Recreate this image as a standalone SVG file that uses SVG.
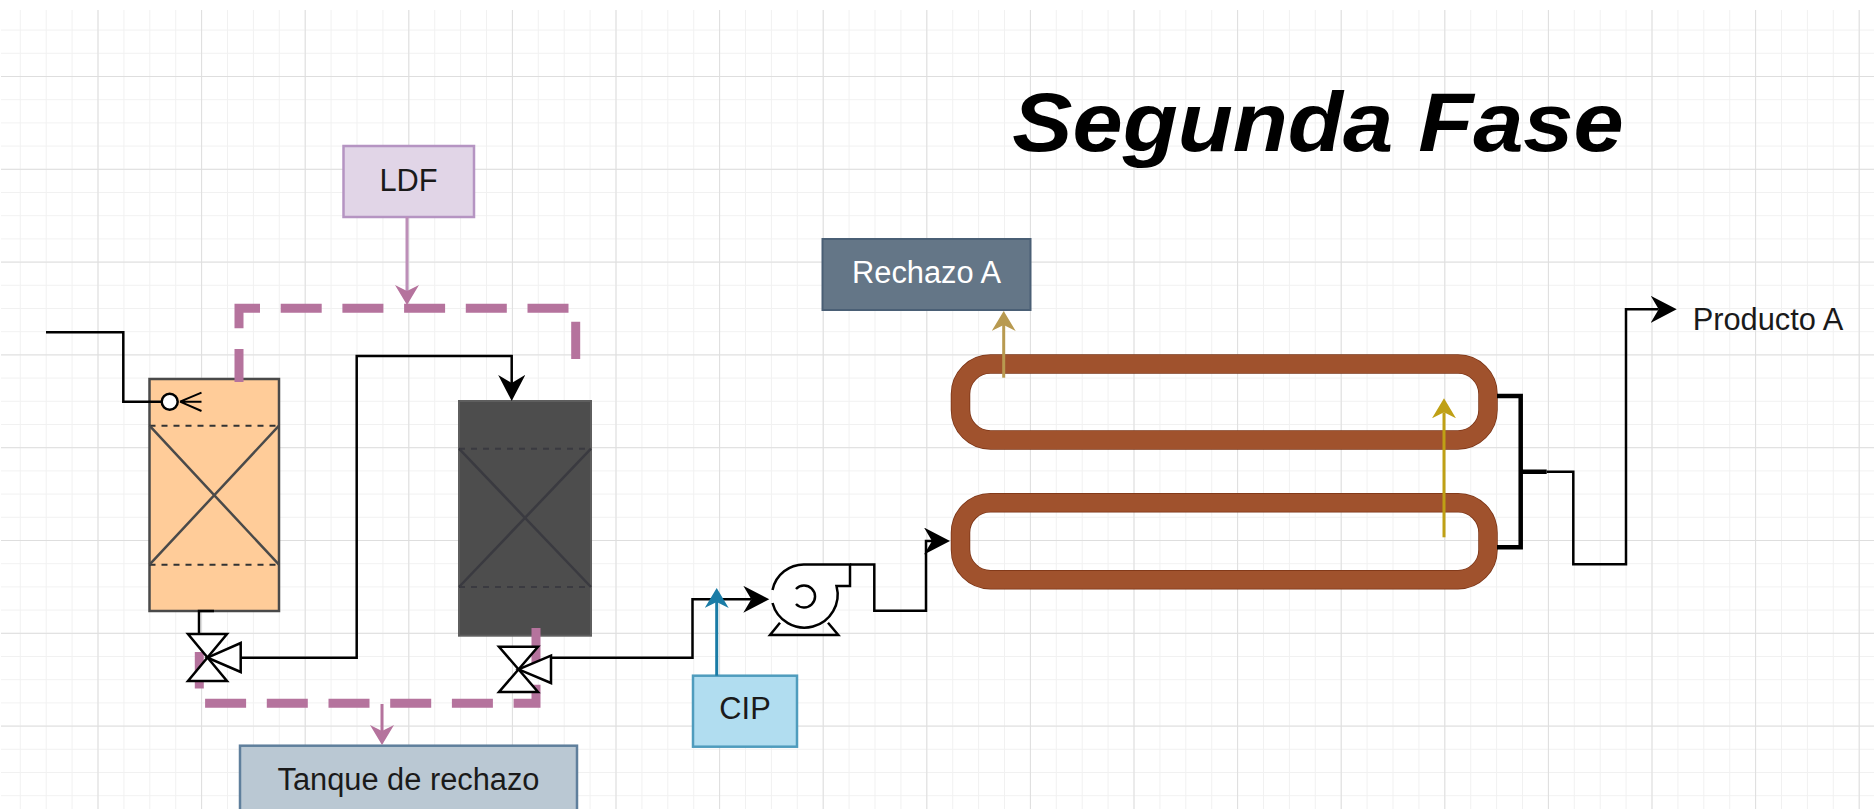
<svg xmlns="http://www.w3.org/2000/svg" width="1874" height="809" viewBox="0 0 1874 809">
<style>
text{font-family:"Liberation Sans",Arial,sans-serif;font-size:30.8px;fill:#1a1a1a;text-anchor:middle}
.c{fill:none;stroke-linejoin:miter}
.blk{stroke:#000;stroke-width:2.5}
.mani{stroke:#000;stroke-width:4.5}
.dash{stroke:#b5739d;stroke-width:9;stroke-dasharray:41 20.7}
.sym{fill:#fff;stroke:#000;stroke-width:2.5;stroke-linejoin:miter}
.inner{fill:none;stroke-width:2.5}
.dot{fill:none;stroke-width:2;stroke-dasharray:6 6}
.coilo{fill:none;stroke:#7a3315;stroke-width:19.5}
.coili{fill:none;stroke:#a0522d;stroke-width:18}
</style>
<defs>
<pattern id="gmin" patternUnits="userSpaceOnUse" x="-6.1" y="6.4" width="25.9" height="23.2">
<path d="M0 0V23.2M0 0H25.9" fill="none" stroke="#f1f1f1" stroke-width="2"/>
</pattern>
<pattern id="gmaj" patternUnits="userSpaceOnUse" x="-6.1" y="-16.8" width="103.6" height="92.8">
<path d="M0 0V92.8M0 0H103.6" fill="none" stroke="#dedede" stroke-width="2"/>
</pattern>
<marker id="mK" markerUnits="userSpaceOnUse" markerWidth="28" markerHeight="28" refX="8" refY="13.5" orient="auto"><path d="M0 0L26 13.5L0 27L8 13.5Z" fill="#000"/></marker>
<marker id="mP" markerUnits="userSpaceOnUse" markerWidth="22" markerHeight="25" refX="6" refY="12" orient="auto"><path d="M0 0L20 12L0 24L6 12Z" fill="#b5739d"/></marker>
<marker id="mL" markerUnits="userSpaceOnUse" markerWidth="22" markerHeight="25" refX="6" refY="12" orient="auto"><path d="M0 0L20 12L0 24L6 12Z" fill="#b5739d"/></marker>
<marker id="mB" markerUnits="userSpaceOnUse" markerWidth="22" markerHeight="25" refX="6" refY="12" orient="auto"><path d="M0 0L20 12L0 24L6 12Z" fill="#1a7ca6"/></marker>
<marker id="mG" markerUnits="userSpaceOnUse" markerWidth="22" markerHeight="25" refX="6" refY="12" orient="auto"><path d="M0 0L20 12L0 24L6 12Z" fill="#bfa015"/></marker>
<marker id="mT" markerUnits="userSpaceOnUse" markerWidth="22" markerHeight="25" refX="6" refY="12" orient="auto"><path d="M0 0L20 12L0 24L6 12Z" fill="#b89a50"/></marker>
</defs>
<rect width="1874" height="809" fill="#fff"/>
<rect x="1" y="10" width="1873" height="799" fill="url(#gmin)"/>
<rect x="1" y="10" width="1873" height="799" fill="url(#gmaj)"/>

<text transform="translate(1318 151) scale(1.08 1)" font-weight="bold" font-style="italic" style="font-size:83.5px;fill:#000">Segunda Fase</text>

<g id="tank-orange">
<rect x="149.5" y="379" width="129.5" height="232" fill="#ffcc99" stroke="#4a4a4a" stroke-width="2.5"/>
<path class="dot" stroke="#333" d="M149.5 425.7H279M149.5 564.7H279"/>
<path class="inner" stroke="#4a4a4a" d="M149.5 425.7L279 564.7M279 425.7L149.5 564.7"/>
</g>
<g id="tank-dark">
<rect x="459" y="401" width="132" height="234.7" fill="#4d4d4d" stroke="#5e5e5e" stroke-width="2"/>
<path class="dot" stroke="#3a3a40" d="M459 448.7H591M459 587H591"/>
<path class="inner" stroke="#3a3a40" d="M459 448.7L591 587M591 448.7L459 587"/>
</g>
<g id="ldf">
<rect x="343.5" y="146" width="130.5" height="71" fill="#e1d5e7" stroke="#b594c2" stroke-width="2.5"/>
<text x="408.5" y="191">LDF</text>
</g>
<g id="tanque-rechazo">
<rect x="240" y="745.7" width="337" height="80" fill="#bac8d3" stroke="#5f7f9c" stroke-width="2.5"/>
<text x="408.5" y="790">Tanque de rechazo</text>
</g>
<g id="rechazo-a">
<rect x="822.5" y="239" width="208" height="71" fill="#647687" stroke="#4a5f75" stroke-width="2"/>
<text x="926.5" y="283" style="fill:#fff">Rechazo A</text>
</g>
<g id="cip">
<rect x="693" y="675.7" width="104" height="71" fill="#b1ddf0" stroke="#4f9cbd" stroke-width="2.5"/>
<text x="745" y="719">CIP</text>
</g>
<g id="producto-a">
<text x="1768" y="329.5">Producto A</text>
</g>
<g id="coil-top">
<rect class="coilo" x="960.5" y="364" width="527.5" height="76" rx="30"/>
<rect class="coili" x="960.5" y="364" width="527.5" height="76" rx="30"/>
</g>
<g id="coil-bottom">
<rect class="coilo" x="960.5" y="502.7" width="527.5" height="77" rx="30"/>
<rect class="coili" x="960.5" y="502.7" width="527.5" height="77" rx="30"/>
</g>

<g id="connectors">
<path class="c dash" stroke-dashoffset="8" d="M239 382V308.3H575.7V359"/>
<path class="c dash" stroke-dashoffset="5" d="M536 628V703.3H199.3V652"/>
<path class="c" stroke="#bd8fb8" stroke-width="3" marker-end="url(#mL)" d="M407 217V291"/>
<path class="c" stroke="#b5739d" stroke-width="3" marker-end="url(#mP)" d="M382 704V731"/>
<path class="c blk" d="M46 332.3H123.3V401.7H162"/>
<path class="c blk" d="M214 611H199V634"/>
<path class="c blk" marker-end="url(#mK)" d="M240.7 657.7H356.7V356H511.7V383"/>
<path class="c blk" marker-end="url(#mK)" d="M551 657.7H692.5V599.3H751.3"/>
<path class="c blk" marker-end="url(#mK)" d="M850 564.5H874.3V610.7H926V541H932"/>
<path class="c mani" d="M1497 396H1520.7V547.3H1497M1520.7 471.7H1546.7"/>
<path class="c blk" marker-end="url(#mK)" d="M1546.7 471.7H1573.3V564.3H1626V309.3H1658.7"/>
<path class="c" stroke="#1a7ca6" stroke-width="3" marker-end="url(#mB)" d="M716.7 675.7V602"/>
<path class="c" stroke="#bfa015" stroke-width="3" marker-end="url(#mG)" d="M1444 537.3V412.3"/>
<path class="c" stroke="#b89a50" stroke-width="3" marker-end="url(#mT)" d="M1003.7 377.7V325"/>
</g>

<g id="inlet-nozzle">
<path fill="none" stroke="#000" stroke-width="2" d="M180 401.7L201.5 392.7M180 401.7H201.5M180 401.7L201.5 411"/>
<circle class="sym" cx="169.7" cy="401.7" r="8"/>
</g>
<g id="valve-1">
<path class="sym" d="M188 634H227L188 681H227Z"/>
<path class="sym" d="M207.5 657.7L240.7 643V672Z"/>
</g>
<g id="valve-2">
<path class="sym" d="M499 646.7H538L499 692H538Z"/>
<path class="sym" d="M518.5 669.3L551 655.7V683Z"/>
</g>
<g id="pump">
<path fill="#fff" stroke="#000" stroke-width="2.5" d="M772.5 590A32 32 0 0 1 805 564.5H850V586H836.5A32 32 0 1 1 772.5 603"/>
<path fill="none" stroke="#000" stroke-width="2.5" d="M796 589A11 11 0 1 1 796 604"/>
<path fill="none" stroke="#000" stroke-width="2.5" d="M780 622.7L770 635H838.3L828 622.7"/>
</g>
</svg>
